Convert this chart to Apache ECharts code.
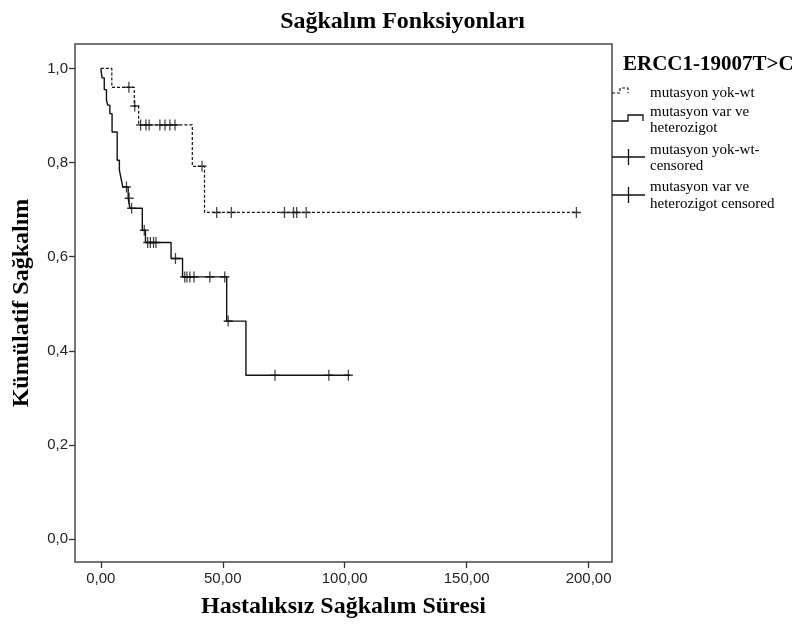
<!DOCTYPE html>
<html>
<head>
<meta charset="utf-8">
<script src="https://cdn.jsdelivr.net/npm/echarts@6/dist/echarts.min.js"></script>
<style>
  html, body { margin: 0; padding: 0; background: #fff; }
  #chart { width: 805px; height: 632px; }
</style>
</head>
<body>
<div id="chart"></div>
<script>
// Kaplan-Meier steps: event times and the survival level reached at each time
const wtTimes = [0, 4.5, 13.7, 15.5, 37.5, 42.5];
const wtSurv  = [1.0, 0.96, 0.92, 0.88, 0.792, 0.694];
const wtEnd = 195.5;
const wtCensored = [11.5, 13.9, 16.3, 18.5, 19.8, 24.2, 26.3, 28.3, 30.4, 41.5, 47.5, 53.5, 75.3, 79.0, 80.3, 84.2, 195.0];

const varTimes = [0, 0.5, 1.4, 2.3, 2.8, 3.7, 4.6, 6.7, 7.6, 8.3, 9.0, 11.2, 11.9, 17.0, 18.3, 28.8, 33.5, 51.6, 59.5];
const varSurv  = [1.0, 0.98, 0.955, 0.933, 0.922, 0.904, 0.865, 0.805, 0.784, 0.766, 0.748, 0.724, 0.703, 0.656, 0.630, 0.596, 0.557, 0.463, 0.348];
const varEnd = 102.2;
const varCensored = [10.5, 11.6, 12.6, 17.8, 19.2, 20.3, 21.6, 22.6, 30.6, 34.4, 35.3, 36.5, 38.2, 44.7, 50.8, 52.2, 71.4, 93.5, 101.5];

const xTicks = [0, 50, 100, 150, 200];
const yTicks = [0, 0.2, 0.4, 0.6, 0.8, 1.0];

const groupNames = ['mutasyon yok-wt', 'mutasyon var ve heterozigot'];
const censorNames = ['mutasyon yok-wt-censored', 'mutasyon var ve heterozigot censored'];

function stepData(times, surv, end) {
  const pts = times.map((t, i) => [t, surv[i]]);
  pts.push([end, surv[surv.length - 1]]);
  return pts;
}
function survAt(times, surv, t) {
  let s = surv[0];
  for (let i = 0; i < times.length; i++) { if (times[i] <= t) s = surv[i]; }
  return s;
}
function censorData(times, surv, cens) {
  return cens.map(t => [t, survAt(times, surv, t)]);
}

const plusPath = 'path://M4.3,0H5.7V4.3H10V5.7H5.7V10H4.3V5.7H0V4.3H4.3Z';
const serif = '"Liberation Serif", "Times New Roman", serif';
const sans = '"Liberation Sans", Arial, sans-serif';

const chart = echarts.init(document.getElementById('chart'), null, { renderer: 'canvas' });

const legendX = 650;
const legendFont = '15px ' + serif;
const graphic = [
  { type: 'text', style: { text: 'ERCC1-19007T>C', x: 623, y: 65, fill: '#000', font: 'bold 21px ' + serif, verticalAlign: 'middle' } },
  // dashed step icon
  { type: 'polyline', shape: { points: [[612, 93], [620, 93], [620, 88], [628, 88], [628, 93]] },
    style: { stroke: '#111', lineWidth: 1.2, lineDash: [3, 2], fill: null } },
  { type: 'text', style: { text: groupNames[0], x: legendX, y: 93, fill: '#000', font: legendFont, verticalAlign: 'middle' } },
  // solid step icon
  { type: 'polyline', shape: { points: [[612, 121], [628, 121], [628, 115], [643, 115], [643, 121]] },
    style: { stroke: '#111', lineWidth: 1.3, fill: null } },
  { type: 'text', style: { text: 'mutasyon var ve', x: legendX, y: 112, fill: '#000', font: legendFont, verticalAlign: 'middle' } },
  { type: 'text', style: { text: 'heterozigot', x: legendX, y: 128.5, fill: '#000', font: legendFont, verticalAlign: 'middle' } },
  // censored icons
  { type: 'line', shape: { x1: 612, y1: 157, x2: 645, y2: 157 }, style: { stroke: '#111', lineWidth: 1.3 } },
  { type: 'line', shape: { x1: 628.5, y1: 149, x2: 628.5, y2: 165 }, style: { stroke: '#111', lineWidth: 1.3 } },
  { type: 'text', style: { text: 'mutasyon yok-wt-', x: legendX, y: 150, fill: '#000', font: legendFont, verticalAlign: 'middle' } },
  { type: 'text', style: { text: 'censored', x: legendX, y: 166.5, fill: '#000', font: legendFont, verticalAlign: 'middle' } },
  { type: 'line', shape: { x1: 612, y1: 195, x2: 645, y2: 195 }, style: { stroke: '#111', lineWidth: 1.3 } },
  { type: 'line', shape: { x1: 628.5, y1: 187, x2: 628.5, y2: 203 }, style: { stroke: '#111', lineWidth: 1.3 } },
  { type: 'text', style: { text: 'mutasyon var ve', x: legendX, y: 187, fill: '#000', font: legendFont, verticalAlign: 'middle' } },
  { type: 'text', style: { text: 'heterozigot censored', x: legendX, y: 204, fill: '#000', font: legendFont, verticalAlign: 'middle' } }
];

chart.setOption({
  animation: false,
  backgroundColor: '#fff',
  title: {
    text: 'Sağkalım Fonksiyonları',
    left: 'center',
    top: 5,
    textStyle: { fontFamily: serif, fontWeight: 'bold', fontSize: 24, color: '#000' }
  },
  grid: {
    left: 75, right: 193, top: 44, bottom: 70,
    show: true, borderColor: '#4a4a4a', borderWidth: 1.5, backgroundColor: '#fff'
  },
  xAxis: {
    type: 'value',
    min: -10.6, max: 209.6,
    name: 'Hastalıksız Sağkalım Süresi',
    nameLocation: 'middle',
    nameGap: 33,
    nameTextStyle: { fontFamily: serif, fontWeight: 'bold', fontSize: 24, color: '#000' },
    axisLine: { show: false, onZero: false },
    axisTick: { show: true, length: 6, customValues: xTicks, lineStyle: { color: '#333', width: 1.3 } },
    axisLabel: {
      customValues: xTicks, margin: 9,
      fontFamily: sans, fontSize: 15, color: '#222',
      formatter: v => v.toFixed(2).replace('.', ',')
    },
    splitLine: { show: false }
  },
  yAxis: {
    type: 'value',
    min: -0.049, max: 1.052,
    name: 'Kümülatif Sağkalım',
    nameLocation: 'middle',
    nameRotate: 90,
    nameGap: 41,
    nameTextStyle: { fontFamily: serif, fontWeight: 'bold', fontSize: 24, color: '#000' },
    axisLine: { show: false, onZero: false },
    axisTick: { show: true, length: 6, customValues: yTicks, lineStyle: { color: '#333', width: 1.3 } },
    axisLabel: {
      customValues: yTicks, margin: 7,
      fontFamily: sans, fontSize: 15, color: '#222',
      formatter: v => v.toFixed(1).replace('.', ',')
    },
    splitLine: { show: false }
  },
  graphic: graphic,
  series: [
    {
      name: groupNames[0], type: 'line', step: 'end',
      data: stepData(wtTimes, wtSurv, wtEnd),
      showSymbol: false, symbol: 'none',
      lineStyle: { color: '#111', width: 1.2, type: [3, 2] }
    },
    {
      name: groupNames[1], type: 'line', step: 'end',
      data: stepData(varTimes, varSurv, varEnd),
      showSymbol: false, symbol: 'none',
      lineStyle: { color: '#111', width: 1.4 }
    },
    {
      name: censorNames[0], type: 'scatter',
      data: censorData(wtTimes, wtSurv, wtCensored),
      symbol: plusPath, symbolSize: [9, 11],
      itemStyle: { color: '#111' }, z: 3
    },
    {
      name: censorNames[1], type: 'scatter',
      data: censorData(varTimes, varSurv, varCensored),
      symbol: plusPath, symbolSize: [9, 11],
      itemStyle: { color: '#111' }, z: 3
    }
  ]
});
</script>
</body>
</html>
